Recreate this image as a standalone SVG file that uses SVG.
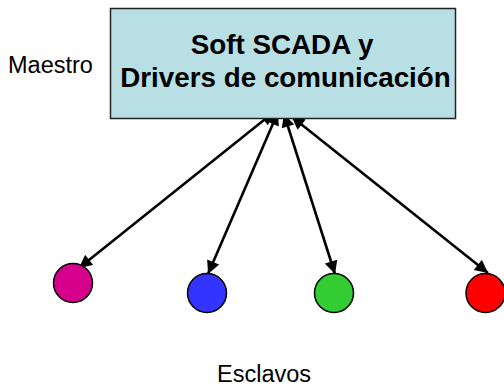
<svg xmlns="http://www.w3.org/2000/svg" width="504" height="386" viewBox="0 0 504 386">
<style>
text{font-family:"Liberation Sans",Arial,sans-serif;fill:#000}
.t{font-weight:bold;font-size:27.800px;text-anchor:middle}
.l{font-size:23.500px}
.n{stroke:#000;stroke-width:1.500}
.c{stroke:#000;stroke-width:2.600;fill:none;marker-start:url(#a);marker-end:url(#a)}
</style>
<defs><marker id="a" viewBox="0 0 10 10" refX="10" refY="5" markerUnits="userSpaceOnUse" markerWidth="14" markerHeight="13" orient="auto-start-reverse"><path d="M0 0L10 5L0 10z" fill="#000"/></marker></defs>
<rect width="504" height="386" fill="#fff"/>
<g id="connectors">
<line class="c" x1="274" y1="112" x2="79" y2="268"/>
<line class="c" x1="278" y1="112" x2="208" y2="274"/>
<line class="c" x1="284" y1="114" x2="335" y2="274"/>
<line class="c" x1="291.500" y1="116.500" x2="488" y2="273"/>
</g>
<g id="master"><rect x="110.500" y="8.500" width="345" height="110" fill="#b8dfe3" stroke="#222" stroke-width="1.500"/>
<text class="t" x="282" y="53.500">Soft SCADA y</text>
<text class="t" x="285.500" y="87">Drivers de comunicación</text></g>
<g id="label-maestro"><text class="l" x="8" y="73">Maestro</text></g>
<g id="slave1"><circle class="n" cx="73" cy="283" r="19.500" fill="#d6008c"/></g>
<g id="slave2"><circle class="n" cx="207" cy="293" r="19.500" fill="#3434ff"/></g>
<g id="slave3"><circle class="n" cx="334" cy="293" r="19.500" fill="#33cc33"/></g>
<g id="slave4"><circle class="n" cx="485.500" cy="293" r="19.500" fill="#ff0000"/></g>
<g id="label-esclavos"><text class="l" x="217" y="381.500">Esclavos</text></g>
</svg>
